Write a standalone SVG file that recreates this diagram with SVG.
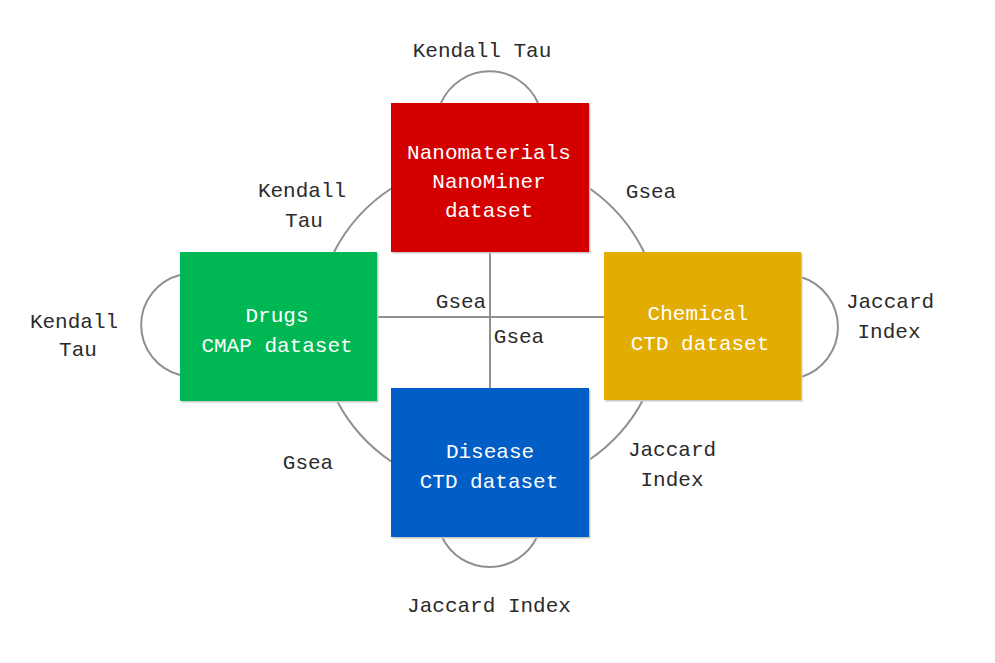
<svg xmlns="http://www.w3.org/2000/svg" width="995" height="663" viewBox="0 0 995 663">
<style>
.bg{fill:#ffffff}
.conn{fill:none;stroke:#8f8f8f;stroke-width:2}
.shadow{fill:#c8c8c8}
.lbl{font-family:"Liberation Mono","DejaVu Sans Mono",monospace;font-size:21px;fill:#2b2b2b;text-anchor:middle}
.ntx{font-family:"Liberation Mono","DejaVu Sans Mono",monospace;font-size:21px;fill:#ffffff;text-anchor:middle}
</style>
<rect class="bg" x="0" y="0" width="995" height="663"/>
<g id="connectors">
  <line class="conn" x1="490" y1="252" x2="490" y2="388"/>
  <line class="conn" x1="377" y1="317" x2="604" y2="317"/>
  <path class="conn" d="M334,252 A168,168 0 0 1 392,188"/>
  <path class="conn" d="M589,188 A168,168 0 0 1 644,252"/>
  <path class="conn" d="M643,400 A168,168 0 0 1 589,460"/>
  <path class="conn" d="M392,462 A168,168 0 0 1 337,401"/>
  <path class="conn" d="M441,103 A53,53 0 0 1 538,103"/>
  <path class="conn" d="M537,537 A52.6,52.6 0 0 1 442,537"/>
  <path class="conn" d="M180,375 A51.6,51.6 0 0 1 180,275"/>
  <path class="conn" d="M801,277 A52.3,52.3 0 0 1 801,377"/>
</g>
<g id="edge-labels">
  <text class="lbl" x="482" y="57">Kendall Tau</text>
  <text class="lbl" x="302" y="197">Kendall</text>
  <text class="lbl" x="304" y="227">Tau</text>
  <text class="lbl" x="74" y="328">Kendall</text>
  <text class="lbl" x="78" y="356">Tau</text>
  <text class="lbl" x="651" y="198">Gsea</text>
  <text class="lbl" x="461" y="308">Gsea</text>
  <text class="lbl" x="519" y="343">Gsea</text>
  <text class="lbl" x="890" y="308">Jaccard</text>
  <text class="lbl" x="889" y="338">Index</text>
  <text class="lbl" x="308" y="469">Gsea</text>
  <text class="lbl" x="672" y="456">Jaccard</text>
  <text class="lbl" x="672" y="486">Index</text>
  <text class="lbl" x="489" y="612">Jaccard Index</text>
</g>
<g id="node-nano">
  <rect class="shadow" x="392.5" y="104.5" width="198" height="149"/>
  <rect x="391" y="103" width="198" height="149" fill="#d40000"/>
  <text class="ntx" x="489" y="159">Nanomaterials</text>
  <text class="ntx" x="489" y="188">NanoMiner</text>
  <text class="ntx" x="489" y="217">dataset</text>
</g>
<g id="node-drugs">
  <rect class="shadow" x="181.5" y="253.5" width="197" height="149"/>
  <rect x="180" y="252" width="197" height="149" fill="#00b853"/>
  <text class="ntx" x="277" y="322">Drugs</text>
  <text class="ntx" x="277" y="352">CMAP dataset</text>
</g>
<g id="node-chemical">
  <rect class="shadow" x="605.5" y="253.5" width="197" height="148"/>
  <rect x="604" y="252" width="197" height="148" fill="#e2ac00"/>
  <text class="ntx" x="698" y="320">Chemical</text>
  <text class="ntx" x="700" y="350">CTD dataset</text>
</g>
<g id="node-disease">
  <rect class="shadow" x="392.5" y="389.5" width="198" height="149"/>
  <rect x="391" y="388" width="198" height="149" fill="#005ec6"/>
  <text class="ntx" x="490" y="458">Disease</text>
  <text class="ntx" x="489" y="488">CTD dataset</text>
</g>
</svg>
